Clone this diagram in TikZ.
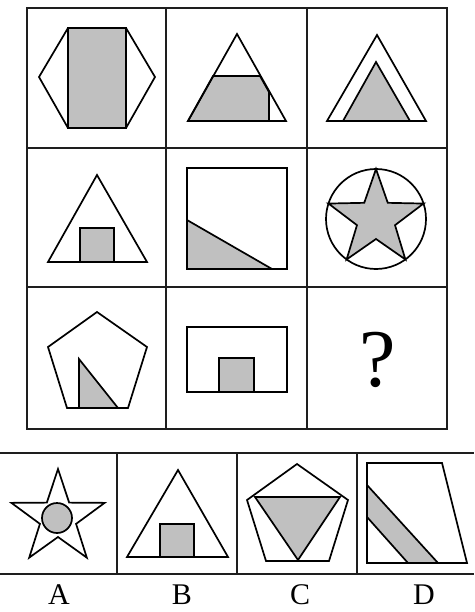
\documentclass[tikz,border=0pt]{standalone}
\usepackage{fontspec}
\setmainfont{Liberation Serif}
\definecolor{fillgray}{RGB}{192,192,192}
\definecolor{linegray}{RGB}{30,30,30}
\begin{document}
\begin{tikzpicture}[x=1pt,y=-1pt,
  gridline/.style={line width=2.6pt,draw=linegray},
  outl/.style={line width=1.7pt,draw=black,line join=miter},
  goutl/.style={outl,fill=fillgray},
  lbl/.style={font=\fontsize{30}{30}\selectfont,inner sep=0pt,anchor=base}]
\useasboundingbox (0,0) rectangle (474,612);
\fill[white] (0,0) rectangle (474,612);
% main grid
\draw[gridline] (27,8) rectangle (447,429);
\draw[gridline] (166,8) -- (166,429);
\draw[gridline] (307,8) -- (307,429);
\draw[gridline] (27,148) -- (447,148);
\draw[gridline] (27,287) -- (447,287);
% cell 1: hexagon + rectangle
\draw[outl] (39,77) -- (68,28) -- (126,28) -- (155,77) -- (126,128) -- (68,128) -- cycle;
\draw[goutl,line width=2.2pt] (68,28) rectangle (126,128);
% cell 2: triangle + trapezoid
\draw[goutl] (213,76) -- (260,76) -- (269,92) -- (269,121) -- (188,121) -- cycle;
\draw[outl] (237,34) -- (286,121) -- (188,121) -- cycle;
% cell 3: two triangles
\draw[outl] (377,35) -- (426,121) -- (327,121) -- cycle;
\draw[goutl] (376,62) -- (410,121) -- (343,121) -- cycle;
% cell 4: triangle + square
\draw[outl] (97,175) -- (147,262) -- (48,262) -- cycle;
\draw[goutl] (80,228) rectangle (114,262);
% cell 5: square + triangle
\draw[goutl] (187,220) -- (272,269) -- (187,269) -- cycle;
\draw[outl,line width=2.2pt] (187,168) rectangle (287,269);
% cell 6: circle + star
\draw[outl] (376,219) circle[radius=50];
\begin{scope}[shift={(376,219)}]
\draw[goutl] (-90:50)
  \foreach \i in {0,...,4} { -- ({-90+72*\i}:50) -- ({-54+72*\i}:20) } -- cycle;
\end{scope}
% cell 7: pentagon + triangle
\draw[outl] (97,312) -- (147,347) -- (128,408) -- (67,408) -- (48,347) -- cycle;
\draw[goutl] (79,359) -- (118,408) -- (79,408) -- cycle;
% cell 8: rectangle + square
\draw[outl] (187,327) rectangle (287,392);
\draw[goutl] (219,358) rectangle (254,392);
% cell 9
\node[font=\fontsize{82}{82}\selectfont,inner sep=0pt] (q) at (378,360) {?};
% options
\draw[gridline] (0,453) -- (474,453);
\draw[gridline] (0,574) -- (474,574);
\draw[gridline,line width=2pt] (117,453) -- (117,574);
\draw[gridline,line width=2pt] (237,453) -- (237,574);
\draw[gridline,line width=2pt] (357,453) -- (357,574);
% A
\begin{scope}[shift={(58,518)}]
\draw[outl] (-90:49)
  \foreach \i in {0,...,4} { -- ({-90+72*\i}:49) -- ({-54+72*\i}:19) } -- cycle;
\end{scope}
\draw[goutl] (57,518) circle[radius=15];
% B
\draw[outl] (178,470) -- (228,557) -- (127,557) -- cycle;
\draw[goutl] (160,524) rectangle (194,557);
% C
\draw[outl] (297,464) -- (348,500) -- (329,561) -- (266,561) -- (247,500) -- cycle;
\draw[goutl] (255,497) -- (340,497) -- (298,560) -- cycle;
% D
\draw[outl] (367,463) -- (442,463) -- (467,563) -- (367,563) -- cycle;
\draw[goutl] (367,485) -- (438,563) -- (408,563) -- (367,517) -- cycle;
% labels
\node[lbl] (la) at (59,604) {A};
\node[lbl] (lb) at (182,604) {B};
\node[lbl] (lc) at (300,604) {C};
\node[lbl] (ld) at (424,604) {D};
\end{tikzpicture}
\end{document}
